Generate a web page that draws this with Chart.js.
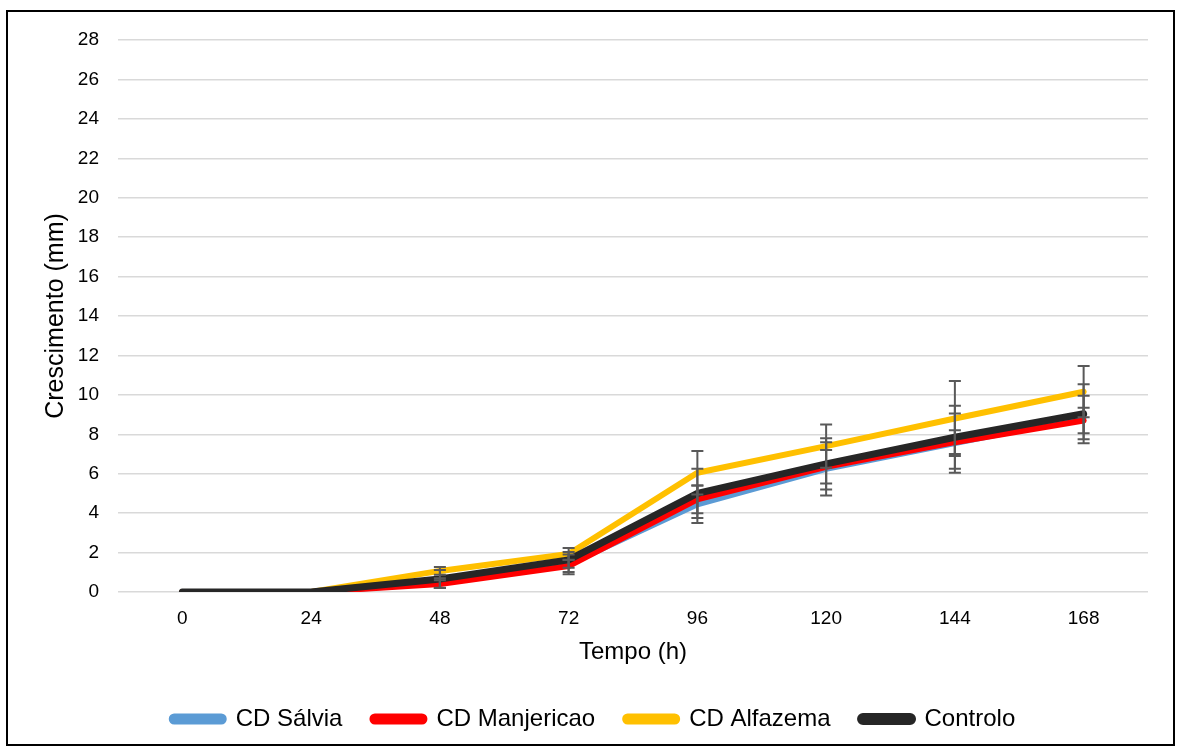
<!DOCTYPE html>
<html>
<head>
<meta charset="utf-8">
<script src="https://cdn.jsdelivr.net/npm/chart.js@4"></script>
<style>
  html, body { margin: 0; padding: 0; background: #fff; }
  #wrap { width: 1179px; height: 749px; }
</style>
</head>
<body>
<div id="wrap"><canvas id="chart-growth" width="1179" height="749"></canvas></div>
<script>
const tempo = ['0', '24', '48', '72', '96', '120', '144', '168'];
const salvia = [0, 0, 0.45, 1.4, 4.45, 6.25, 7.55, 8.85];
const manjericao = [0, 0, 0.4, 1.32, 4.7, 6.35, 7.6, 8.7];
const alfazema = [0, 0, 1.07, 1.93, 6.05, 7.4, 8.8, 10.16];
const controlo = [0, 0, 0.66, 1.63, 5.0, 6.5, 7.85, 9.04];
const errSalvia = [0, 0, 0.25, 0.5, 0.95, 1.35, 1.5, 1.1];
const errManjericao = [0, 0, 0.2, 0.3, 0.7, 0.85, 0.6, 0.65];
const errAlfazema = [0, 0, 0.2, 0.3, 1.1, 1.1, 1.9, 1.3];
const errControlo = [0, 0, 0.45, 0.4, 1.25, 1.3, 1.6, 1.5];
const yTicks = { min: 0, max: 28, step: 2 };

const font = `'Liberation Sans', Arial, sans-serif`;

const frame = {
  id: 'frame',
  beforeDraw(chart) {
    const ctx = chart.ctx;
    ctx.save();
    ctx.fillStyle = '#fff';
    ctx.fillRect(0, 0, chart.width, chart.height);
    ctx.strokeStyle = '#000';
    ctx.lineWidth = 2;
    ctx.strokeRect(7, 11, 1167, 734);
    ctx.restore();
  }
};

const errorBars = {
  id: 'errorBars',
  afterDatasetsDraw(chart) {
    const ctx = chart.ctx;
    const y = chart.scales.y;
    ctx.save();
    ctx.strokeStyle = '#595959';
    ctx.lineWidth = 2;
    chart.data.datasets.forEach((ds, i) => {
      const meta = chart.getDatasetMeta(i);
      meta.data.forEach((pt, j) => {
        const e = ds.errors[j];
        if (!e) return;
        const top = y.getPixelForValue(ds.data[j] + e);
        const bot = y.getPixelForValue(ds.data[j] - e);
        ctx.beginPath();
        ctx.moveTo(pt.x, top); ctx.lineTo(pt.x, bot);
        ctx.moveTo(pt.x - 6, top); ctx.lineTo(pt.x + 6, top);
        ctx.moveTo(pt.x - 6, bot); ctx.lineTo(pt.x + 6, bot);
        ctx.stroke();
      });
    });
    ctx.restore();
  }
};

const line = (label, data, errors, color, width, order) => ({
  label, data, errors, order,
  borderColor: color,
  backgroundColor: color,
  borderWidth: width,
  borderRadius: 3,
  pointRadius: 0,
  tension: 0,
  borderJoinStyle: 'round',
  borderCapStyle: 'round',
  fill: false
});

new Chart(document.getElementById('chart-growth'), {
  type: 'line',
  data: {
    labels: tempo,
    datasets: [
      line('CD Sálvia', salvia, errSalvia, '#5B9BD5', 6, 4),
      line('CD Manjericao', manjericao, errManjericao, '#FF0000', 6, 3),
      line('CD Alfazema', alfazema, errAlfazema, '#FFC000', 6, 2),
      line('Controlo', controlo, errControlo, '#262626', 7, 1)
    ]
  },
  options: {
    responsive: false,
    animation: false,
    layout: { padding: { left: 39, right: 31, top: 40, bottom: 8 } },
    plugins: {
      tooltip: { enabled: false },
      legend: {
        position: 'bottom',
        labels: {
          sort: (a, b) => a.datasetIndex - b.datasetIndex,
          boxWidth: 52,
          boxHeight: 5,
          useBorderRadius: true,
          borderRadius: 2.5,
          padding: 30,
          color: '#000',
          font: { family: font, size: 24 }
        }
      }
    },
    scales: {
      x: {
        offset: true,
        grid: { display: false, drawTicks: false },
        border: { display: false },
        ticks: { color: '#000', padding: 15, font: { family: font, size: 19 } },
        title: { display: true, text: 'Tempo (h)', color: '#000', padding: { top: 4, bottom: 10 }, font: { family: font, size: 24 } },
        afterFit: s => { s.height = 85; }
      },
      y: {
        min: yTicks.min,
        max: yTicks.max,
        grid: { color: '#D9D9D9', lineWidth: 1.5, drawTicks: false },
        border: { display: false },
        ticks: { stepSize: yTicks.step, color: '#000', padding: 19, font: { family: font, size: 19 } },
        title: { display: true, text: 'Crescimento (mm)', color: '#000', padding: 2, font: { family: font, size: 25 } },
        afterFit: s => { s.width = 79; }
      }
    }
  },
  plugins: [frame, errorBars]
});
</script>
</body>
</html>
